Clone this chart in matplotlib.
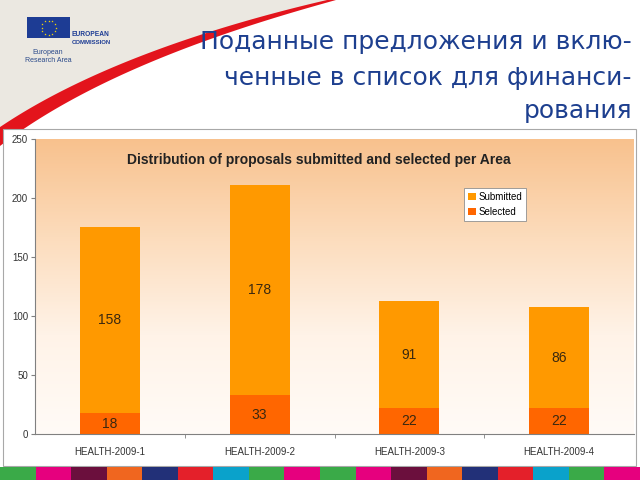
import numpy as np
import matplotlib
matplotlib.use("Agg")
import matplotlib.pyplot as plt
from matplotlib.patches import Rectangle, Polygon
from matplotlib.colors import LinearSegmentedColormap

# ---- data ----
categories = ["HEALTH-2009-1", "HEALTH-2009-2", "HEALTH-2009-3", "HEALTH-2009-4"]
selected = [18, 33, 22, 22]
submitted = [158, 178, 91, 86]   # stacked on top of selected
y_ticks = [0, 50, 100, 150, 200, 250]
chart_title = "Distribution of proposals submitted and selected per Area"
slide_title = ["Поданные предложения и вклю-", "ченные в список для финанси-", "рования"]

W, H = 640, 480
fig = plt.figure(figsize=(W / 100, H / 100), dpi=100)
fig.patch.set_facecolor("white")

# ---- decorative background layer (pixel coordinates) ----
bg = fig.add_axes([0, 0, 1, 1])
bg.set_xlim(0, W)
bg.set_ylim(H, 0)
bg.axis("off")

# swoosh centerline (quadratic bezier)
t = np.linspace(0, 1, 200)
p0, p1, p2 = np.array([-5, 140]), np.array([110, 55]), np.array([340, -2])
cx = (1 - t) ** 2 * p0[0] + 2 * (1 - t) * t * p1[0] + t ** 2 * p2[0]
cy = (1 - t) ** 2 * p0[1] + 2 * (1 - t) * t * p1[1] + t ** 2 * p2[1]
dx = np.gradient(cx); dy = np.gradient(cy)
n = np.hypot(dx, dy)
nx, ny = -dy / n, dx / n
w = 7 * (1 - t) ** 0.8 + 0.8
ux, uy = cx + nx * w, cy + ny * w
lx, ly = cx - nx * w, cy - ny * w
# beige region above swoosh
beige = np.vstack([[[-5, -5], [350, -5]], np.column_stack([cx, cy])[::-1]])
bg.add_patch(Polygon(beige, closed=True, facecolor="#ebe8e1", edgecolor="none", zorder=1))
band = np.vstack([np.column_stack([ux, uy]), np.column_stack([lx, ly])[::-1]])
bg.add_patch(Polygon(band, closed=True, facecolor="#e3141c", edgecolor="none", zorder=2))

# EU logo
bg.add_patch(Rectangle((27, 17), 43, 21, facecolor="#1d3c94", edgecolor="none", zorder=3))
ang = np.linspace(0, 2 * np.pi, 13)[:-1]
bg.scatter(48.5 + 7 * np.cos(ang), 27.5 + 7 * np.sin(ang), marker="*", s=3,
           color="#ffdd00", linewidths=0, zorder=4)
bg.text(72, 34, "EUROPEAN", fontsize=4.8, color="#1d3c94", family="Liberation Sans",
        fontweight="bold", ha="left", va="center", zorder=4)
bg.text(72, 43, "COMMISSION", fontsize=4.3, color="#1d3c94", family="Liberation Sans",
        fontweight="bold", ha="left", va="center", zorder=4)
bg.text(48, 53, "European", fontsize=5, color="#2a4a8a", family="Liberation Sans",
        ha="center", va="center", zorder=4)
bg.text(48, 61, "Research Area", fontsize=5, color="#2a4a8a", family="Liberation Sans",
        ha="center", va="center", zorder=4)

# slide title
for line, yy in zip(slide_title, [42, 78, 111]):
    bg.text(632, yy, line, fontsize=18, color="#1d3f8f", family="DejaVu Sans",
            ha="right", va="center", zorder=4)

# chart frame
bg.add_patch(Rectangle((3, 129), 633, 337, facecolor="white", edgecolor="#a8a8a8",
                       linewidth=0.8, zorder=3))

# bottom colour stripe
stripe_colors = ["#3aaa48", "#e6007e", "#6b0f3d", "#f0661f", "#223078", "#e4202a",
                 "#0aa2cb", "#3aaa48", "#e6007e", "#3aaa48", "#e6007e", "#6b0f3d",
                 "#f0661f", "#223078", "#e4202a", "#0aa2cb", "#3aaa48", "#e6007e"]
sw = W / len(stripe_colors)
for i, c in enumerate(stripe_colors):
    bg.add_patch(Rectangle((i * sw, 467), sw + 0.5, 13, facecolor=c, edgecolor="none", zorder=3))

# ---- chart axes ----
x0, x1, ytop, ybot = 35, 634, 139.3, 434.3
ax = fig.add_axes([x0 / W, 1 - ybot / H, (x1 - x0) / W, (ybot - ytop) / H])
ax.set_xlim(-0.5, 3.5)
ax.set_ylim(0, 250)

grad = LinearSegmentedColormap.from_list("g", ["#fffbf7", "#fff3e8", "#fcdcbc", "#f8c18d"])
ax.imshow(np.linspace(0, 1, 256).reshape(-1, 1), cmap=grad, origin="lower",
          extent=[-0.5, 3.5, 0, 250], aspect="auto", zorder=0)

x = np.arange(len(categories))
b1 = ax.bar(x, selected, width=0.4, color="#ff6600", zorder=2, label="Selected")
b2 = ax.bar(x, submitted, width=0.4, bottom=selected, color="#ff9900", zorder=2, label="Submitted")
ax.bar_label(b1, labels=[str(v) for v in selected], label_type="center", fontsize=10,
             color="#3a2810", family="Liberation Sans")
ax.bar_label(b2, labels=[str(v) for v in submitted], label_type="center", fontsize=10,
             color="#3a2810", family="Liberation Sans")

ax.set_yticks(y_ticks)
ax.set_yticklabels([str(v) for v in y_ticks], fontsize=7, family="Liberation Sans", color="#333333")
ax.set_xticks(x)
ax.set_xticklabels(categories, fontsize=7, family="Liberation Sans", color="#333333")
ax.set_xticks([0.5, 1.5, 2.5], minor=True)
ax.tick_params(axis="x", which="major", length=0, pad=9)
ax.tick_params(axis="x", which="minor", length=3, color="#808080")
ax.tick_params(axis="y", length=3, color="#808080", pad=2)
for s in ["top", "right"]:
    ax.spines[s].set_visible(False)
for s in ["left", "bottom"]:
    ax.spines[s].set_color("#808080")
    ax.spines[s].set_linewidth(0.8)

handles = [b2, b1]
leg = ax.legend(handles, ["Submitted", "Selected"], loc="upper left",
                bbox_to_anchor=((464 - x0) / (x1 - x0), (ybot - 188) / (ybot - ytop)),
                prop={"family": "Liberation Sans", "size": 7}, fancybox=False,
                framealpha=1, edgecolor="#909090", handlelength=0.8, handleheight=0.8,
                handletextpad=0.3, borderpad=0.4, labelspacing=0.5, borderaxespad=0)
leg.get_frame().set_linewidth(0.6)

fig.text(319 / W, 1 - 160 / H, chart_title, fontsize=10, fontweight="bold",
         family="Liberation Sans", color="#222222", ha="center", va="center")

fig.savefig("out.png", dpi=100)
